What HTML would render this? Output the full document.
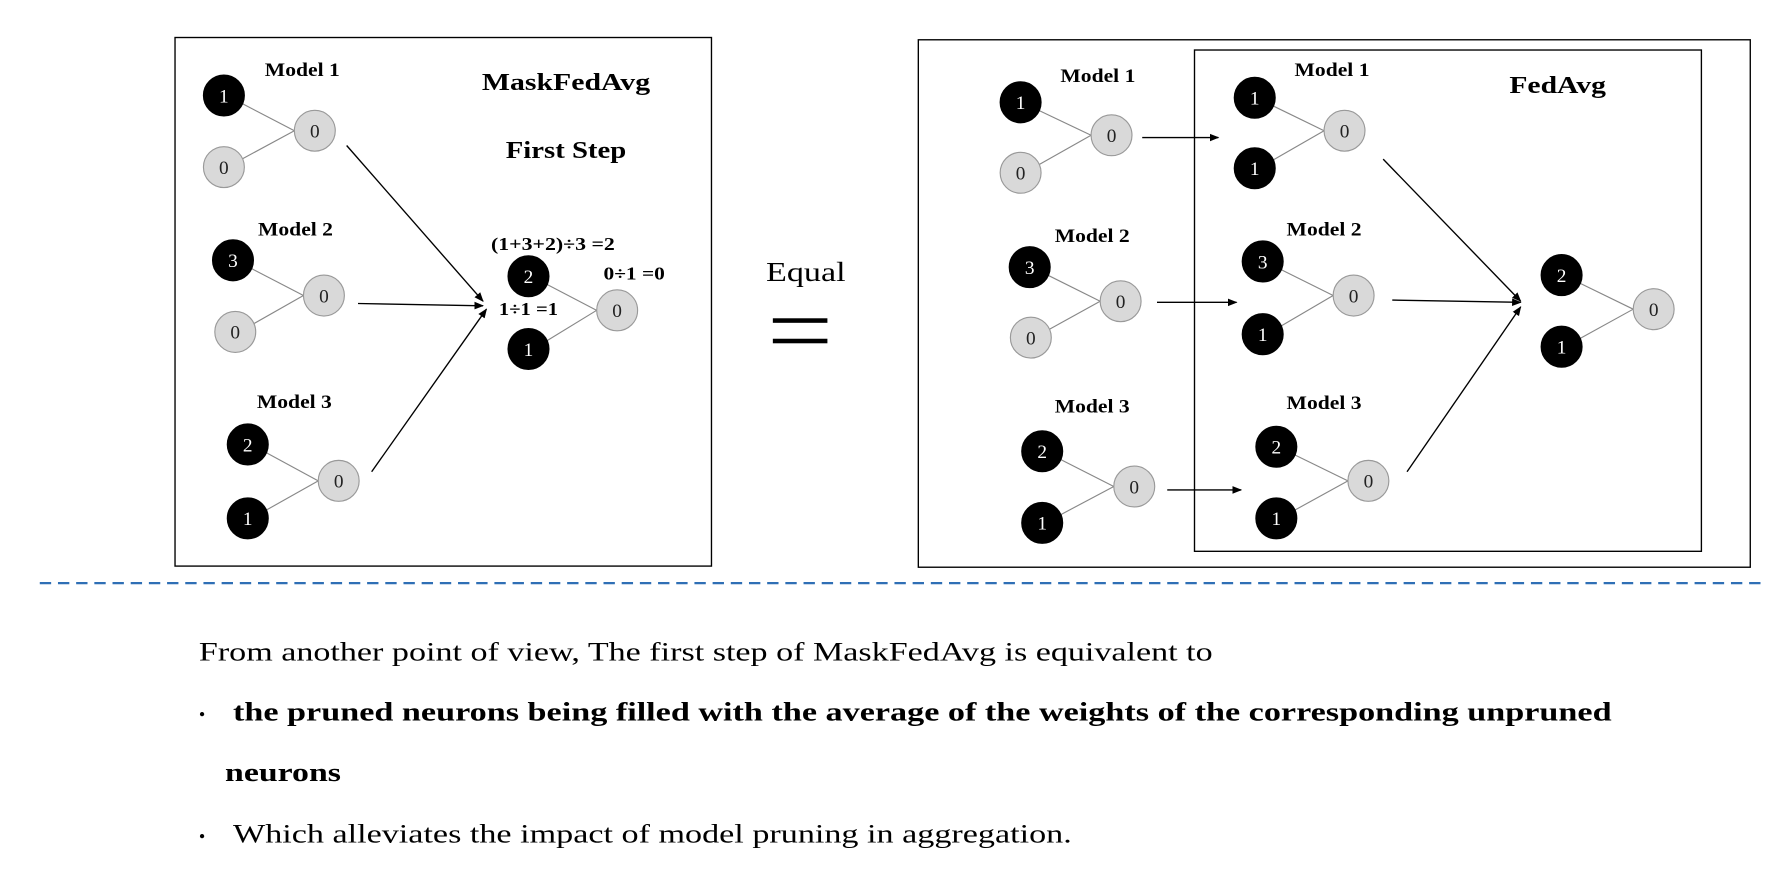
<!DOCTYPE html>
<html><head><meta charset="utf-8"><style>
html,body{margin:0;padding:0;background:#fff;width:1773px;height:873px;overflow:hidden}
svg{display:block}
text{font-family:"Liberation Serif",serif}
</style></head><body>
<svg id="s" width="1773" height="873" viewBox="0 0 1560 768" preserveAspectRatio="none" xmlns="http://www.w3.org/2000/svg">
<defs><marker id="ah" viewBox="0 0 10 10" refX="9" refY="5" markerWidth="7" markerHeight="7" orient="auto"><path d="M0,1 L10,5 L0,9 z" fill="#000"/></marker></defs>
<rect x="154" y="33" width="472" height="465" fill="none" stroke="#000" stroke-width="1.2"/>
<rect x="808" y="35" width="732" height="464" fill="none" stroke="#000" stroke-width="1.2"/>
<rect x="1051" y="44" width="446" height="441" fill="none" stroke="#000" stroke-width="1.2"/>
<g id="g"></g>
<text x="424" y="79" font-size="21" font-weight="bold" textLength="148" lengthAdjust="spacingAndGlyphs">MaskFedAvg</text>
<text x="445" y="139" font-size="21" font-weight="bold" textLength="106" lengthAdjust="spacingAndGlyphs">First Step</text>
<text x="432" y="220" font-size="16" font-weight="bold" textLength="109" lengthAdjust="spacingAndGlyphs">(1+3+2)÷3 =2</text>
<text x="439" y="277" font-size="16" font-weight="bold" textLength="52" lengthAdjust="spacingAndGlyphs">1÷1 =1</text>
<text x="531" y="246" font-size="16" font-weight="bold" textLength="54" lengthAdjust="spacingAndGlyphs">0÷1 =0</text>
<text x="1328" y="82" font-size="21" font-weight="bold" textLength="85" lengthAdjust="spacingAndGlyphs">FedAvg</text>
<text x="674" y="247" font-size="24" textLength="70" lengthAdjust="spacingAndGlyphs">Equal</text>
<rect x="680" y="280" width="48" height="4" fill="#000"/>
<rect x="680" y="298" width="48" height="4" fill="#000"/>
<line x1="35" y1="513" x2="1555" y2="513" stroke="#2f6fb5" stroke-width="2" stroke-dasharray="10,6"/>
<text x="175" y="581" font-size="23" textLength="892" lengthAdjust="spacingAndGlyphs">From another point of view, The first step of MaskFedAvg is equivalent to</text>
<text x="175" y="634" font-size="16">•</text>
<text x="205" y="634" font-size="23" font-weight="bold" textLength="1213" lengthAdjust="spacingAndGlyphs">the pruned neurons being filled with the average of the weights of the corresponding unpruned</text>
<text x="198" y="687" font-size="23" font-weight="bold" textLength="102" lengthAdjust="spacingAndGlyphs">neurons</text>
<text x="175" y="741" font-size="16">•</text>
<text x="205" y="741" font-size="23" textLength="738" lengthAdjust="spacingAndGlyphs">Which alleviates the impact of model pruning in aggregation.</text>
</svg>
<script>
const g=document.getElementById('g');
const NS='http://www.w3.org/2000/svg';
// [label x,y, in1 x,y,val,black, in2 x,y,val,black, out x,y]
const nets=[
[266,62,197,84,'1',1,197,147,'0',0,277,115],
[260,202,205,229,'3',1,207,292,'0',0,285,260],
[259,354,218,391,'2',1,218,456,'1',1,298,423],
[null,0,465,243,'2',1,465,307,'1',1,543,273],
[966,67,898,90,'1',1,898,152,'0',0,978,119],
[961,208,906,235,'3',1,907,297,'0',0,986,265],
[961,358,917,397,'2',1,917,460,'1',1,998,428],
[1172,62,1104,86,'1',1,1104,148,'1',1,1183,115],
[1165,202,1111,230,'3',1,1111,294,'1',1,1191,260],
[1165,355,1123,393,'2',1,1123,456,'1',1,1204,423],
[null,0,1374,242,'2',1,1374,305,'1',1,1455,272]];
const arrows=[[305,128,425,265],[315,267,425,269],[327,415,428,272],[1005,121,1072,121],[1018,266,1088,266],[1027,431,1092,431],[1217,140,1338,265],[1225,264,1338,266],[1238,415,1338,270]];
const R=18;
function mk(t,a){const e=document.createElementNS(NS,t);for(const k in a)e.setAttribute(k,a[k]);g.appendChild(e);return e;}
function node(x,y,v,b){
 const c=mk('circle',{cx:x,cy:y,r:R,fill:b?'#000':'#d9d9d9',stroke:b?'#000':'#999','stroke-width':1});
 
 
 const t=mk('text',{x:x,y:y+6,'font-size':17,'text-anchor':'middle',fill:b?'#fff':'#222'});
 t.textContent=v;
 
 
}
let mi=0;
nets.forEach(n=>{
 const [lx,ly,ax,ay,av,ab,bx,by,bv,bb,ox,oy]=n;
 [[ax,ay],[bx,by]].forEach(p=>{
  const l=mk('line',{x1:p[0]+R*0.9,y1:p[1]+(oy>p[1]?R*0.4:-R*0.4),x2:ox-R,y2:oy,stroke:'#888','stroke-width':1});
  
  
 });
 node(ax,ay,av,ab);node(bx,by,bv,bb);node(ox,oy,'0',0);
 if(lx!==null){
  const t=mk('text',{x:lx-33,y:ly+5,'font-size':17,'font-weight':'bold',textLength:66,lengthAdjust:'spacingAndGlyphs'});
  t.textContent='Model '+(mi%3+1);
  mi++;
  
  
 }
});
arrows.forEach(a=>{
 const l=mk('line',{x1:a[0],y1:a[1],x2:a[2],y2:a[3],stroke:'#000','stroke-width':1.2,'marker-end':'url(#ah)'});
 
 
});
</script>
</body></html>
